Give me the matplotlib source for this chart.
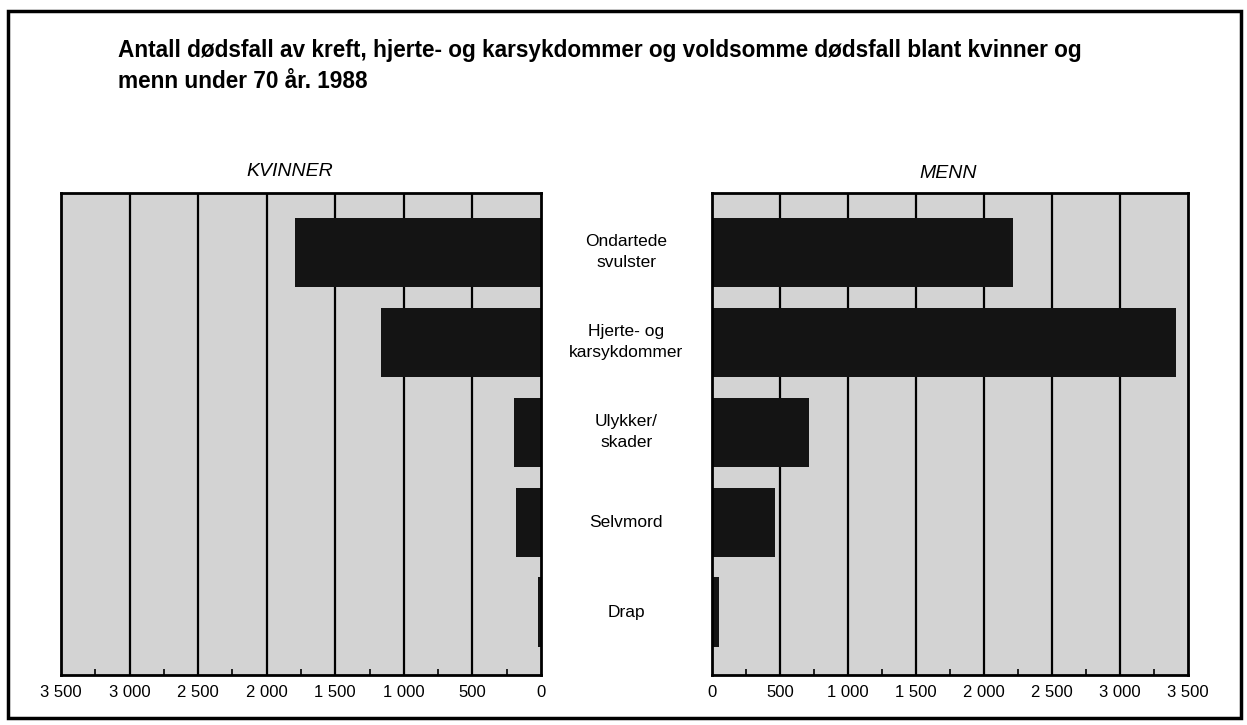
import matplotlib
matplotlib.use("Agg")
import matplotlib.pyplot as plt
from matplotlib.patches import Rectangle
from matplotlib.ticker import FixedLocator, FuncFormatter

plt.rcParams["font.family"] = ["Liberation Sans", "DejaVu Sans"]

# data (deaths under 70, 1988)
categories = ["Ondartede\nsvulster", "Hjerte- og\nkarsykdommer", "Ulykker/\nskader", "Selvmord", "Drap"]
kvinner = [1795, 1170, 195, 180, 20]
menn = [2210, 3410, 715, 465, 50]
ticks = [0, 500, 1000, 1500, 2000, 2500, 3000, 3500]

BG = "#d3d3d3"
BAR = "#141414"


def fmt(v, _pos):
    return f"{int(v):,}".replace(",", " ")


def style_panel(ax):
    ax.set_facecolor(BG)
    ax.set_xlim(0, 3500)
    ax.set_ylim(4.7, -0.66)
    ax.xaxis.set_major_locator(FixedLocator(ticks))
    ax.xaxis.set_minor_locator(FixedLocator([250 + 500 * i for i in range(7)]))
    ax.xaxis.set_major_formatter(FuncFormatter(fmt))
    ax.tick_params(axis="x", which="major", length=0, pad=7, labelsize=12)
    ax.tick_params(axis="x", which="minor", length=4, width=1.2, direction="in")
    ax.set_yticks([])
    for v in ticks[1:-1]:
        ax.axvline(v, color="black", lw=1.6, zorder=1)
    for s in ax.spines.values():
        s.set_linewidth(2)


fig = plt.figure(figsize=(12.47, 7.25), dpi=100)
W, H = 1247, 725

ax_k = fig.add_axes([61 / W, 1 - 675 / H, 480 / W, 482 / H])
ax_m = fig.add_axes([712 / W, 1 - 675 / H, 476 / W, 482 / H])

pos = list(range(len(categories)))
style_panel(ax_k)
ax_k.barh(pos, kvinner, height=0.77, color=BAR, zorder=2)
ax_k.invert_xaxis()

style_panel(ax_m)
ax_m.barh(pos, menn, height=0.77, color=BAR, zorder=2)

fig.text(290 / W, 1 - 172 / H, "KVINNER", fontsize=14, style="italic", ha="center", va="center")
fig.text(948 / W, 1 - 173 / H, "MENN", fontsize=14, style="italic", ha="center", va="center")

# category labels between the panels
for i, cat in enumerate(categories):
    ax_m.text(-0.18, i, cat, transform=ax_m.get_yaxis_transform(),
              ha="center", va="center", fontsize=12.5, linespacing=1.5)

fig.text(118 / W, 1 - 50 / H,
         "Antall dødsfall av kreft, hjerte- og karsykdommer og voldsomme dødsfall blant kvinner og",
         fontsize=16.3, fontweight="bold", va="center")
fig.text(118 / W, 1 - 82 / H, "menn under 70 år. 1988",
         fontsize=16.3, fontweight="bold", va="center")

fig.patches.append(Rectangle((8 / W, 7 / H), 1233 / W, 707 / H, transform=fig.transFigure,
                             fill=False, edgecolor="black", lw=2.5))

fig.savefig("out.png", dpi=100)
